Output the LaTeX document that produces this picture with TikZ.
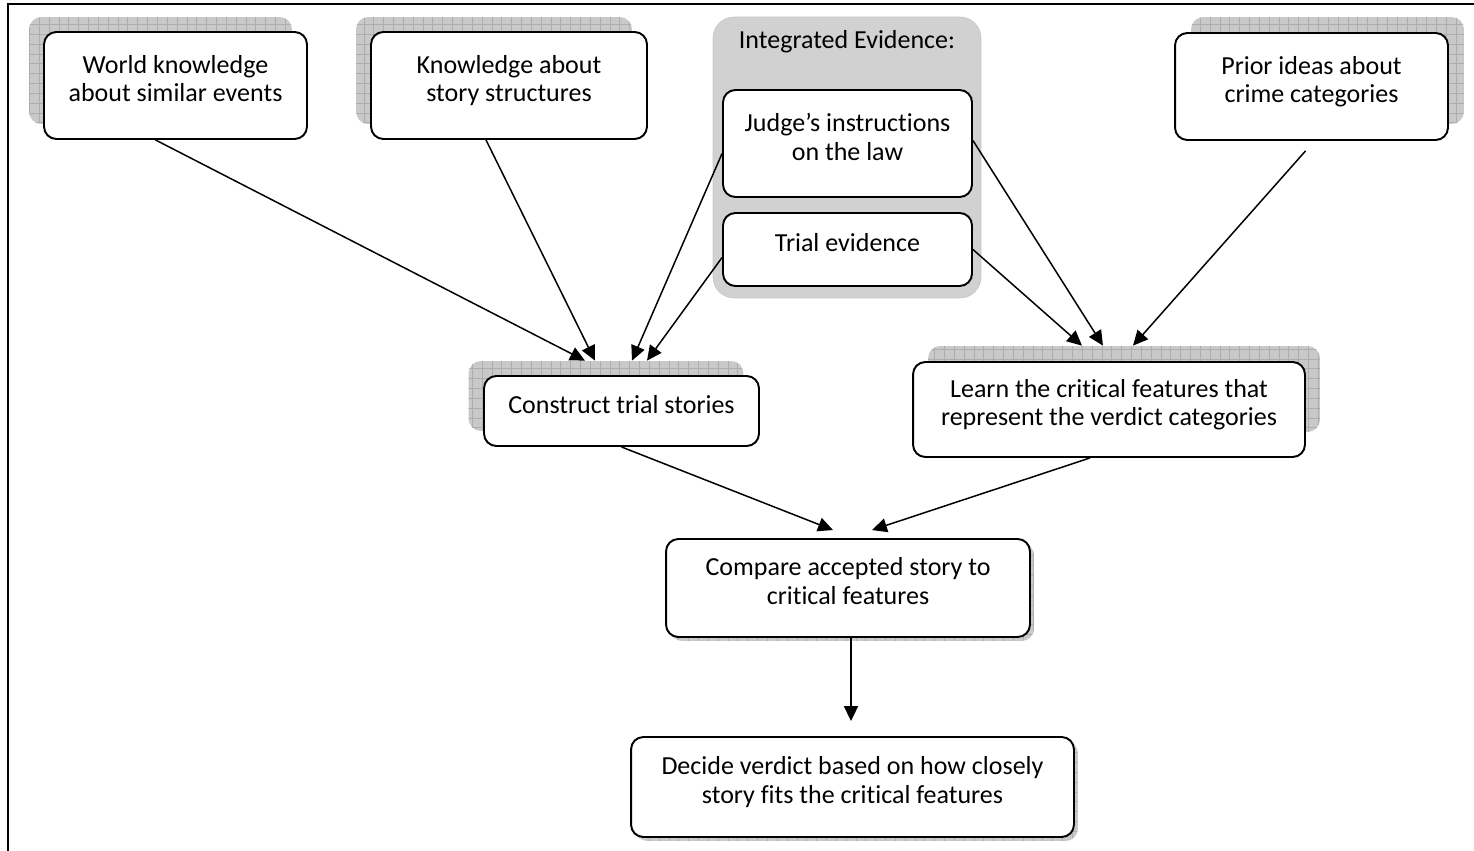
\documentclass[tikz,border=0pt]{standalone}
\usepackage{fontspec}
\setmainfont[Ligatures=NoCommon]{Carlito}
\usetikzlibrary{arrows.meta,calc,patterns.meta}
\begin{document}
\begin{tikzpicture}[x=0.02cm, y=-0.02cm, every node/.style={font=\fontsize{14.8}{16.4}\selectfont},
  card/.style={draw,line width=1.1pt,rounded corners=7pt,fill=white,align=center,text depth=8pt,inner sep=2pt},
  gridshadow/.style={fill=gray!42,rounded corners=7pt,inner sep=0pt,
    postaction={pattern={Hatch[angle=0,distance=5.6pt,line width=0.5pt]},pattern color=gray!64}},
  arr/.style={-{Triangle[length=8.5pt,width=8pt]},line width=0.85pt}]
  \useasboundingbox (0,0) rectangle (1474,851);
  \draw[line width=1.2pt] (8,851) -- (8,4) -- (1474,4);
  % shadows
  \node[gridshadow,minimum width=5.26cm,minimum height=2.14cm] (worldsh) at (160.5,70.5) {};
  \node[gridshadow,minimum width=5.52cm,minimum height=2.14cm] (knowsh) at (494,70.5) {};
  \node[gridshadow,minimum width=5.46cm,minimum height=2.14cm] (priorsh) at (1327.5,70.5) {};
  \node[gridshadow,minimum width=5.50cm,minimum height=1.40cm] (constrsh) at (606,396) {};
  \node[gridshadow,minimum width=7.84cm,minimum height=1.72cm] (learnsh) at (1124,389) {};
  \node[gridshadow,minimum width=7.28cm,minimum height=1.96cm] (comparesh) at (852,592) {};
  \node[gridshadow,minimum width=8.86cm,minimum height=2.00cm] (decidesh) at (856.5,791) {};
  % evidence group
  \node[fill=gray!36,draw=gray!44,rounded corners=12pt,minimum width=5.36cm,minimum height=5.62cm] (evid) at (847,157.5) {};
  \node (evidlabel) at (847,42) {Integrated Evidence:};
  \node[card,minimum width=5.26cm,minimum height=2.14cm] (world) at (175.5,85.5) {World knowledge\\about similar events};
  \node[card,minimum width=5.52cm,minimum height=2.14cm] (know) at (509,85.5) {Knowledge about\\story structures};
  \node[card,minimum width=4.98cm,minimum height=2.14cm] (judge) at (847.5,143.5) {Judge’s instructions\\on the law};
  \node[card,minimum width=4.98cm,minimum height=1.46cm] (trial) at (847.5,249.5) {Trial evidence};
  \node[card,minimum width=5.46cm,minimum height=2.14cm] (prior) at (1311.5,86.5) {Prior ideas about\\crime categories};
  \node[card,minimum width=5.50cm,minimum height=1.40cm] (constr) at (621.5,411) {Construct trial stories};
  \node[card,minimum width=7.84cm,minimum height=1.90cm] (learn) at (1109,409.5) {Learn the critical features that\\represent the verdict categories};
  \node[card,minimum width=7.28cm,minimum height=1.96cm] (compare) at (848,588) {Compare accepted story to\\critical features};
  \node[card,minimum width=8.86cm,minimum height=2.00cm] (decide) at (852.5,787) {Decide verdict based on how closely\\story fits the critical features};
  \draw[arr] ($(world.south)+(-20,0)$) -- ($(constrsh.north)+(-21,0)$);
  \draw[arr] ($(know.south)+(-23,0)$) -- ($(constrsh.north)+(-11,0)$);
  \draw[arr] ($(judge.west)+(0,10)$) -- ($(constrsh.north)+(26,0)$);
  \draw[arr] ($(trial.west)+(0,8)$) -- ($(constrsh.north)+(41,0)$);
  \draw[arr] ($(judge.east)+(0,-3)$) -- ($(learnsh.north)+(-21,0)$);
  \draw[arr] (trial.east) -- ($(learnsh.north)+(-42,0)$);
  \draw[arr] ($(prior.south)+(-6,10)$) -- ($(learnsh.north)+(9,0)$);
  \draw[arr] (constr.south) -- ($(compare.north)+(-15,-8)$);
  \draw[arr] ($(learn.south)+(-19,0)$) -- ($(compare.north)+(24,-8)$);
  \draw[arr] ($(compare.south)+(3,0)$) -- ($(decide.north)+(-1.5,-15)$);
\end{tikzpicture}
\end{document}
